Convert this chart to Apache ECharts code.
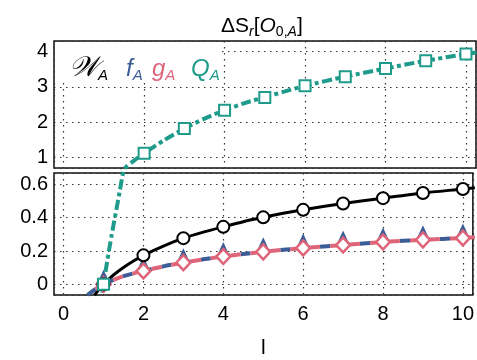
<!DOCTYPE html>
<html><head><meta charset="utf-8">
<script src="https://cdn.jsdelivr.net/npm/echarts@6/dist/echarts.min.js"></script>
<style>html,body{margin:0;padding:0;background:#fff}#c{width:477px;height:360px}</style>
</head><body><div id="c"></div>
<script>
// ---- data ----
const markerL = [1, 2, 3, 4, 5, 6, 7, 8, 9, 10];
const wMarks = [0, 0.174, 0.277, 0.345, 0.402, 0.447, 0.485, 0.517, 0.548, 0.572];
const fMarks = [0, 0.080, 0.130, 0.167, 0.195, 0.218, 0.236, 0.254, 0.267, 0.278];
const gMarks = [0, 0.080, 0.130, 0.167, 0.195, 0.218, 0.236, 0.254, 0.267, 0.278];
const qMarks = [0, 1.12, 1.82, 2.34, 2.70, 3.03, 3.29, 3.52, 3.74, 3.93];

const wLineL = [0.77, 0.85, 1, 1.25, 1.5, 1.75, 2, 2.5, 3, 3.5, 4, 4.5, 5, 5.5, 6, 7, 8, 9, 10, 10.3];
const wLineV = [-0.065, -0.041, 0, 0.056, 0.101, 0.140, 0.174, 0.229, 0.277, 0.313, 0.345, 0.376, 0.402, 0.426, 0.447, 0.485, 0.517, 0.548, 0.572, 0.580];
const fgLineL = [0.6, 0.7, 0.8, 0.9, 1, 1.25, 1.5, 1.75, 2, 2.5, 3, 3.5, 4, 4.5, 5, 5.5, 6, 7, 8, 9, 10, 10.3];
const fLineV = [-0.064, -0.045, -0.028, -0.013, 0, 0.027, 0.049, 0.066, 0.080, 0.108, 0.130, 0.150, 0.167, 0.182, 0.195, 0.207, 0.218, 0.236, 0.254, 0.267, 0.278, 0.282];
const gLineV = [-0.064, -0.045, -0.028, -0.013, 0, 0.027, 0.049, 0.066, 0.080, 0.108, 0.130, 0.150, 0.167, 0.182, 0.195, 0.207, 0.218, 0.236, 0.254, 0.267, 0.278, 0.282];
const qLineL = [0.97, 1, 1.1, 1.2, 1.3, 1.4, 1.5, 1.75, 2, 2.5, 3, 3.5, 4, 4.5, 5, 5.5, 6, 7, 8, 9, 10, 10.3];
const qLineV = [-0.05, 0, 0.15, 0.29, 0.42, 0.55, 0.68, 0.91, 1.12, 1.49, 1.82, 2.10, 2.34, 2.54, 2.71, 2.87, 3.03, 3.29, 3.52, 3.74, 3.93, 3.98];

const xTicks = [0, 2, 4, 6, 8, 10];
const topTicks = [1, 2, 3, 4];
const botTicks = [0, 0.2, 0.4, 0.6];

// ---- styles ----
const BLACK = '#000', BLUE = '#3b5c96', PINK = '#de6579', TEAL = '#1e9b8a';
const FONT = 'Liberation Sans';
const pairs = (xs, ys) => xs.map((x, i) => [x, ys[i]]);

const grid = { show: true, borderColor: '#111', borderWidth: 1.5, backgroundColor: 'transparent', containLabel: false };
const split = { show: true, lineStyle: { color: '#333', width: 1.2, type: [1.5, 4.5] } };
function xAx(idx, withLabels) {
  return {
    type: 'value', gridIndex: idx, min: -0.24, max: 10.25, minInterval: 2, maxInterval: 2,
    axisLine: { show: false }, axisTick: { show: false }, splitLine: split,
    axisLabel: { show: withLabels, showMinLabel: false, showMaxLabel: false, color: '#000', fontSize: 20, fontFamily: FONT, margin: 9,
      formatter: v => xTicks.includes(v) ? String(v) : '' },
    name: withLabels ? 'l' : '', nameLocation: 'middle', nameGap: 43,
    nameTextStyle: { color: '#000', fontSize: 21, fontFamily: FONT }
  };
}
function yAx(idx, min, max, step, ticks) {
  return {
    type: 'value', gridIndex: idx, min: min, max: max, minInterval: step, maxInterval: step,
    axisLine: { show: false }, axisTick: { show: false }, splitLine: split,
    axisLabel: { showMinLabel: false, showMaxLabel: false, color: '#000', fontSize: 20, fontFamily: FONT, margin: 6,
      formatter: v => { const t = ticks.find(k => Math.abs(k - v) < 1e-6); return t === undefined ? '' : String(t); } }
  };
}

function line(xi, data, color, width, type, dashOffset, z) {
  return { type: 'line', xAxisIndex: xi, yAxisIndex: xi, data: data, smooth: 0.25,
    showSymbol: false, symbol: 'none', clip: true, z: z, silent: true,
    lineStyle: { color: color, width: width, type: type, dashOffset: dashOffset || 0, cap: 'butt' } };
}
function marks(xi, data, symbol, size, color, fill, bw, z, offset) {
  return { type: 'scatter', xAxisIndex: xi, yAxisIndex: xi, data: data, symbol: symbol, symbolSize: size,
    symbolOffset: offset || [0, 0], clip: true, z: z, silent: true,
    itemStyle: { color: fill, borderColor: color, borderWidth: bw, opacity: 1 } };
}
function legendItem(main, color, left, mainFont) {
  return {
    text: '{m|' + main + '}{s|A}', left: left, top: 50, z: 20,
    textStyle: { fontWeight: 'normal', rich: {
      m: { fontSize: mainFont.size, fontFamily: mainFont.family, fontStyle: 'italic', fontWeight: 'normal', color: color, lineHeight: 28, verticalAlign: 'middle' },
      s: { fontSize: 15, fontFamily: FONT, fontStyle: 'italic', fontWeight: 'normal', color: color, lineHeight: 14, verticalAlign: 'bottom' }
    } }
  };
}

const chart = echarts.init(document.getElementById('c'), null, { renderer: 'canvas' });
chart.setOption({
  animation: false,
  backgroundColor: '#fff',
  title: [{
    text: '{a|ΔS}{s|r}{a|[}{i|O}{s0|0,}{s|A}{a|]}', left: 216, top: 8,
    textStyle: { fontWeight: 'normal', rich: {
      a: { fontSize: 21, fontFamily: FONT, fontWeight: 'normal', color: '#000', lineHeight: 26, verticalAlign: 'middle' },
      i: { fontSize: 21, fontFamily: FONT, fontWeight: 'normal', fontStyle: 'italic', color: '#000', lineHeight: 26, verticalAlign: 'middle' },
      s: { fontSize: 14, fontFamily: FONT, fontWeight: 'normal', fontStyle: 'italic', color: '#000', lineHeight: 14, verticalAlign: 'bottom' },
      s0: { fontSize: 14, fontFamily: FONT, fontWeight: 'normal', color: '#000', lineHeight: 14, verticalAlign: 'bottom' }
    } }
  },
  legendItem('𝒲', BLACK, 64, { size: 28, family: 'DejaVu Serif' }),
  legendItem('f', BLUE, 121, { size: 24, family: FONT }),
  legendItem('g', PINK, 147, { size: 24, family: FONT }),
  legendItem('Q', TEAL, 186, { size: 24, family: FONT })],
  graphic: [{ type: 'rect', shape: { x: 55, y: 42, width: 167, height: 41 }, style: { fill: '#fff' }, z: 5, silent: true }],
  grid: [
    Object.assign({ left: 54, top: 41, right: 1, height: 127 }, grid),
    Object.assign({ left: 54, top: 173, right: 1, height: 129 }, grid)
  ],
  xAxis: [xAx(0, false), xAx(1, true)],
  yAxis: [yAx(0, 0.70, 4.30, 1, topTicks), yAx(1, -0.064, 0.668, 0.2, botTicks)],
  series: [
    line(0, pairs(qLineL, qLineV), TEAL, 4, [10, 3.5, 4, 3.5], 0, 3),
    marks(0, pairs(markerL, qMarks), 'rect', 11, TEAL, '#fff', 2, 9),

    line(1, pairs(qLineL, qLineV), TEAL, 4, [10, 3.5, 4, 3.5], 0, 3),
    line(1, pairs(wLineL, wLineV), BLACK, 3, 'solid', 0, 4),
    line(1, pairs(fgLineL, fLineV), BLUE, 4, [10, 10], 0, 4),
    line(1, pairs(fgLineL, gLineV), PINK, 4, [10, 10], 10, 4),
    marks(1, pairs(markerL, fMarks), 'triangle', [12, 13], BLUE, BLUE, 0, 6, [0, -8]),
    marks(1, pairs(markerL, gMarks), 'diamond', [14, 15], PINK, '#fff', 2.5, 7),
    marks(1, pairs(markerL, wMarks), 'circle', 12, BLACK, '#fff', 2, 8),
    marks(1, pairs(markerL, qMarks), 'rect', 11, TEAL, '#fff', 2, 9)
  ]
});
</script></body></html>
